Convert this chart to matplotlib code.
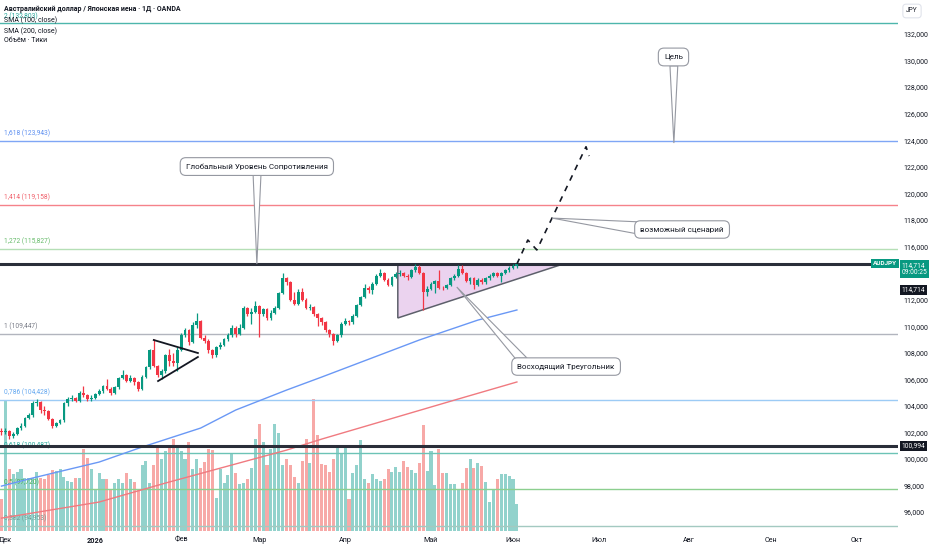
import matplotlib
matplotlib.use("Agg")
import matplotlib.pyplot as plt
import pandas as pd
from matplotlib.patches import Polygon
from matplotlib.transforms import blended_transform_factory

plt.rcParams['font.family'] = ['Roboto', 'DejaVu Sans']

# --- daily AUDJPY bars (bar 0 = 28 Nov 2025) ---
first_open = 102.1
closes = [
    102.0, 102.1, 101.7, 101.9, 102.3, 102.5, 103.1, 103.3, 104.2, 104.3,
    103.7, 103.6, 103.0, 102.5, 102.7, 102.9, 104.2, 104.5, 104.6, 104.4,
    105.0, 104.8, 104.5, 104.6, 104.9, 105.1, 105.5, 105.3, 105.0, 105.4,
    106.1, 106.3, 105.9, 106.1, 105.8, 105.3, 106.2, 106.9, 108.2, 107.0,
    106.3, 106.6, 107.8, 107.4, 107.2, 108.2, 109.3, 109.7, 108.8, 110.1,
    110.4, 109.1, 108.9, 108.2, 107.8, 108.4, 108.6, 109.0, 109.3, 109.9,
    109.4, 109.9, 111.35, 110.95, 111.1, 111.5, 110.9, 111.3, 110.6, 111.0,
    111.4, 112.5, 113.6, 113.3, 112.0, 111.7, 112.6, 112.0, 111.4, 111.45,
    110.9, 110.6, 110.3, 109.7, 109.4, 108.9, 109.3, 110.2, 110.4, 110.3,
    110.8, 111.6, 112.2, 112.9, 112.7, 113.2, 113.8, 114.0, 113.5, 113.1,
    113.7, 113.95, 114.0, 113.8, 113.7, 114.2, 114.45, 114.0, 112.6, 112.8,
    113.2, 113.4, 112.9, 112.85, 113.1, 113.6, 113.8, 114.3, 114.0, 113.4,
    113.6, 113.1, 113.5, 113.3, 113.6, 113.8, 114.0, 113.8, 114.0, 114.2,
    114.4, 114.5, 114.714]
highs = [
    102.3, 102.3, 102.2, 102.0, 102.4, 102.7, 103.2, 103.5, 104.4, 104.5,
    104.4, 104.0, 103.7, 103.1, 102.8, 103.0, 104.3, 104.7, 104.8, 104.7,
    105.1, 105.5, 104.9, 104.8, 105.0, 105.3, 105.6, 106.0, 105.4, 105.5,
    106.2, 106.7, 106.4, 106.3, 106.2, 105.9, 106.3, 107.0, 108.3, 109.0,
    107.1, 106.8, 107.9, 108.3, 108.0, 108.4, 109.5, 109.9, 109.8, 110.3,
    111.0, 110.5, 109.3, 109.0, 108.3, 108.5, 108.8, 109.1, 109.5, 110.1,
    110.0, 110.2, 111.5, 111.45, 111.4, 111.9, 111.6, 111.4, 111.4, 111.2,
    111.5, 112.6, 114.0, 113.7, 113.4, 112.6, 112.8, 112.9, 112.1, 111.7,
    111.5, 111.0, 110.7, 110.4, 109.8, 109.5, 109.4, 110.3, 110.6, 110.5,
    110.9, 111.7, 112.3, 113.2, 113.0, 113.3, 113.9, 114.3, 114.1, 113.6,
    113.8, 114.1, 114.2, 114.1, 113.9, 114.3, 114.7, 114.6, 114.1, 113.0,
    113.3, 113.5, 114.2, 113.0, 113.2, 113.7, 113.9, 114.6, 114.6, 114.1,
    113.7, 113.7, 113.6, 113.6, 113.7, 113.9, 114.1, 114.1, 114.1, 114.3,
    114.5, 114.7, 114.9]
lows = [
    101.8, 101.9, 101.5, 101.6, 101.8, 102.2, 102.4, 103.0, 103.2, 104.0,
    103.5, 103.3, 102.9, 102.3, 102.4, 102.6, 102.8, 104.0, 104.4, 104.3,
    104.3, 104.7, 104.4, 104.4, 104.5, 104.8, 105.0, 105.2, 104.8, 104.9,
    105.3, 106.0, 105.8, 105.8, 105.6, 105.1, 105.2, 106.1, 106.8, 106.9,
    106.2, 106.0, 106.5, 107.0, 107.0, 106.6, 108.1, 109.2, 108.6, 108.7,
    109.9, 109.0, 108.7, 108.0, 107.6, 107.7, 108.3, 108.5, 108.9, 109.2,
    109.2, 109.3, 109.8, 110.8, 110.2, 111.0, 109.2, 110.8, 110.5, 110.5,
    110.9, 111.3, 112.4, 113.1, 111.9, 111.6, 111.6, 111.9, 111.3, 111.2,
    110.8, 110.0, 110.1, 109.6, 109.2, 108.6, 108.8, 109.2, 110.1, 110.1,
    110.2, 110.7, 111.5, 112.1, 112.5, 112.4, 113.1, 113.7, 113.4, 113.0,
    113.0, 113.6, 113.8, 113.7, 113.5, 113.6, 114.1, 113.9, 111.2, 112.3,
    112.7, 112.5, 112.8, 112.7, 112.8, 113.0, 113.5, 113.7, 113.9, 113.3,
    113.2, 112.8, 113.0, 113.2, 113.2, 113.5, 113.7, 113.7, 113.3, 113.9,
    114.1, 114.3, 114.4]
volumes = [
    32, 130, 62, 57, 59, 62, 53, 53, 53, 59,
    53, 52, 56, 61, 60, 62, 54, 50, 49, 53,
    53, 82, 73, 62, 42, 58, 52, 52, 42, 48,
    52, 48, 58, 52, 49, 42, 66, 70, 48, 66,
    84, 72, 80, 85, 92, 85, 80, 72, 89, 62,
    72, 63, 69, 82, 81, 33, 62, 48, 56, 77,
    58, 47, 48, 52, 63, 92, 107, 89, 66, 82,
    107, 98, 66, 72, 66, 54, 48, 70, 92, 68,
    132, 96, 67, 66, 59, 72, 85, 78, 85, 32,
    58, 66, 91, 52, 48, 57, 52, 50, 52, 62,
    59, 64, 59, 70, 64, 61, 58, 68, 106, 60,
    80, 46, 82, 58, 58, 47, 47, 42, 48, 63,
    72, 63, 68, 65, 49, 29, 42, 52, 57, 57,
    55, 52, 27]

sma100_idx = [0, 8, 25, 36, 51, 60, 73, 82, 107, 122, 132]
sma100_val = [97.96, 98.57, 99.77, 100.90, 102.33, 103.69, 105.19, 106.17, 108.96, 110.46, 111.22]
sma200_idx = [0, 25, 42, 59, 73, 82, 117, 132]
sma200_val = [95.55, 96.76, 98.19, 99.55, 100.67, 101.50, 104.52, 105.80]

fib_ratios = ['2', '1,618', '1,414', '1,272', '1', '0,786', '0,618', '0,5', '0,382']
fib_prices = [132.803, 123.943, 119.158, 115.827, 109.447, 104.428, 100.487, 97.720, 94.953]
fib_line_colors = ['#4db6ac', '#7fa6f5', '#f5828a', '#b5dfb6', '#b2b5be',
                   '#9ccbf5', '#6cc3b6', '#8ccf8f', '#a3c9c1']
fib_text_colors = ['#26a69a', '#5c8ef0', '#f0606b', '#66bb6a', '#787b86',
                   '#64a8f0', '#26a69a', '#4caf50', '#6f9f95']

last_price = 114.714
support_price = 100.994

# right-axis ticks (114 is hidden behind the price tags in the original)
y_ticks = [96, 98, 100, 102, 104, 106, 108, 110, 112, 116, 118,
           120, 122, 124, 126, 128, 130, 132]

# drawings
sym_upper_idx, sym_upper_val = [39.0, 50.3], [108.96, 107.98]
sym_lower_idx, sym_lower_val = [40.1, 50.3], [105.87, 107.68]
asc_tri_idx = [101.5, 101.5, 143.5]
asc_tri_val = [114.61, 110.62, 114.65]
scenario_idx = [132, 134.8, 137.1, 149.7, 150.5]
scenario_val = [114.68, 116.49, 115.74, 123.51, 122.81]

month_names = {12: 'Дек', 1: '2026', 2: 'Фев', 3: 'Мар', 4: 'Апр', 5: 'Май',
               6: 'Июн', 7: 'Июл', 8: 'Авг', 9: 'Сен', 10: 'Окт'}

UP, DOWN = '#089981', '#f23645'
VOL_UP, VOL_DOWN = '#92d2cc', '#f7a9a7'
TXT = '#131722'

fig = plt.figure(figsize=(9.32, 5.5), dpi=100)
rect = [0, 19 / 550, 898 / 932, 531 / 550]
axv = fig.add_axes(rect, zorder=0)
ax = fig.add_axes(rect, zorder=1)
ax.patch.set_alpha(0)

x = list(range(len(closes)))
opens = [first_open] + closes[:-1]
up = [c >= o for o, c in zip(opens, closes)]
xlim = (-0.38, 229.6)

# volume
axv.bar(x, volumes, width=0.78, color=[VOL_UP if u else VOL_DOWN for u in up], linewidth=0)
axv.set_xlim(*xlim)
axv.set_ylim(0, 531)
axv.axis('off')

# levels
for r, p, lc, tc in zip(fib_ratios, fib_prices, fib_line_colors, fib_text_colors):
    ax.axhline(p, color=lc, lw=1.0, zorder=2)
    ax.annotate(f"{r} ({p:.3f})".replace('.', ','), xy=(0, p),
                xycoords=('axes fraction', 'data'), xytext=(3, 2.5),
                textcoords='offset points', fontsize=4.8, color=tc, va='bottom', zorder=3)

ax.plot([xlim[0], 223.0], [last_price, last_price], color='#2a2e39', lw=2.2, zorder=4)
ax.axhline(support_price, color='#2a2e39', lw=2.2, zorder=4)

# moving averages
ax.plot(sma100_idx, sma100_val, color='#6a98f5', lw=1.0, zorder=3)
ax.plot(sma200_idx, sma200_val, color='#f07a80', lw=1.0, zorder=3)

# ascending triangle
ax.add_patch(Polygon(list(zip(asc_tri_idx, asc_tri_val)), closed=True,
                     fc=(0.61, 0.15, 0.69, 0.2), ec='#5d606b', lw=1.1, zorder=3))

# candles
colors = [UP if u else DOWN for u in up]
ax.vlines(x, lows, highs, colors=colors, lw=0.9, zorder=5)
bottoms = [min(o, c) for o, c in zip(opens, closes)]
heights = [max(abs(c - o), 0.05) for o, c in zip(opens, closes)]
ax.bar(x, heights, bottom=bottoms, width=0.72, color=colors, linewidth=0, zorder=5)

# symmetric triangle
ax.plot(sym_upper_idx, sym_upper_val, color='#131722', lw=1.3, zorder=6)
ax.plot(sym_lower_idx, sym_lower_val, color='#131722', lw=1.3, zorder=6)

# scenario path
ax.plot(scenario_idx, scenario_val, color='#131722', lw=1.2, dashes=(3.5, 3.5), zorder=6)


def callout(text, center, base_a, base_b, tip):
    ax.add_patch(Polygon([base_a, tip, base_b], closed=True, fc='white',
                         ec='#9598a1', lw=0.8, zorder=7))
    ax.text(center[0], center[1], text, ha='center', va='center', fontsize=5.8,
            color=TXT, zorder=8,
            bbox=dict(boxstyle='round,pad=0.7,rounding_size=0.7', fc='white',
                      ec='#9598a1', lw=0.8))


callout('Глобальный Уровень Сопротивления', (65.4, 122.02), (64.4, 121.7), (66.5, 121.7), (65.4, 114.68))
callout('Цель', (172.1, 130.27), (171.2, 129.6), (173.2, 129.6), (172.2, 123.79))
callout('возможный сценарий', (174.3, 117.28), (164.5, 117.84), (164.5, 116.86), (141.0, 118.14))
callout('Восходящий Треугольник', (144.6, 106.96), (131.5, 107.6), (134.6, 107.6), (116.6, 112.95))

# axes
ax.set_xlim(*xlim)
ax.set_ylim(94.58, 134.56)
for s in ax.spines.values():
    s.set_visible(False)

dates = pd.bdate_range('2025-11-28', '2026-10-30')
pos, labs = [], []
for i, d in enumerate(dates):
    if i > 0 and d.month != dates[i - 1].month:
        pos.append(i)
        labs.append(month_names[d.month])
ax.set_xticks(pos)
ax.set_xticklabels(labs, fontsize=5.2, color=TXT)
for t in ax.get_xticklabels():
    if t.get_text() == '2026':
        t.set_fontweight('bold')
ax.tick_params(axis='x', length=0, pad=4)

ax.yaxis.tick_right()
ax.set_yticks(y_ticks)
ax.set_yticklabels([f"{v:.3f}".replace('.', ',') for v in y_ticks], fontsize=5, color=TXT)
ax.tick_params(axis='y', length=0, pad=4)

# price tags
tr = blended_transform_factory(ax.transAxes, ax.transData)
ax.text(0.9855, last_price, 'AUDJPY', transform=tr, ha='center', va='center',
        fontsize=4.6, color='white', fontweight='bold', zorder=9,
        bbox=dict(boxstyle='square,pad=0.3', fc=UP, ec='none'))
ax.text(1.004, last_price + 0.12, '114,714\n09:00:25', transform=tr, ha='left', va='top',
        fontsize=4.8, color='white', linespacing=1.05, zorder=9,
        bbox=dict(boxstyle='square,pad=0.25', fc=UP, ec='none'))
ax.text(1.004, 112.75, '114,714', transform=tr, ha='left', va='center',
        fontsize=4.8, color='white', zorder=9,
        bbox=dict(boxstyle='square,pad=0.25', fc='#131722', ec='none'))
ax.text(1.004, support_price, '100,994', transform=tr, ha='left', va='center',
        fontsize=4.8, color='white', zorder=9,
        bbox=dict(boxstyle='square,pad=0.25', fc='#131722', ec='none'))

# header
fig.text(912 / 932, 1 - 11 / 550, 'JPY', fontsize=4.8, color=TXT, ha='center', va='center',
         bbox=dict(boxstyle='round,pad=0.5', fc='white', ec='#e0e3eb', lw=0.8))
fig.text(4 / 932, 1 - 9 / 550, 'Австралийский доллар / Японская иена · 1Д · OANDA',
         fontsize=5, color=TXT, fontweight='bold', va='center')
fig.text(4 / 932, 1 - 20 / 550, 'SMA (100, close)', fontsize=5, color=TXT, va='center')
fig.text(4 / 932, 1 - 31 / 550, 'SMA (200, close)', fontsize=5, color=TXT, va='center')
fig.text(4 / 932, 1 - 41 / 550, 'Объём · Тики', fontsize=5, color=TXT, va='center')

fig.savefig('out.png', dpi=100, facecolor='white')
